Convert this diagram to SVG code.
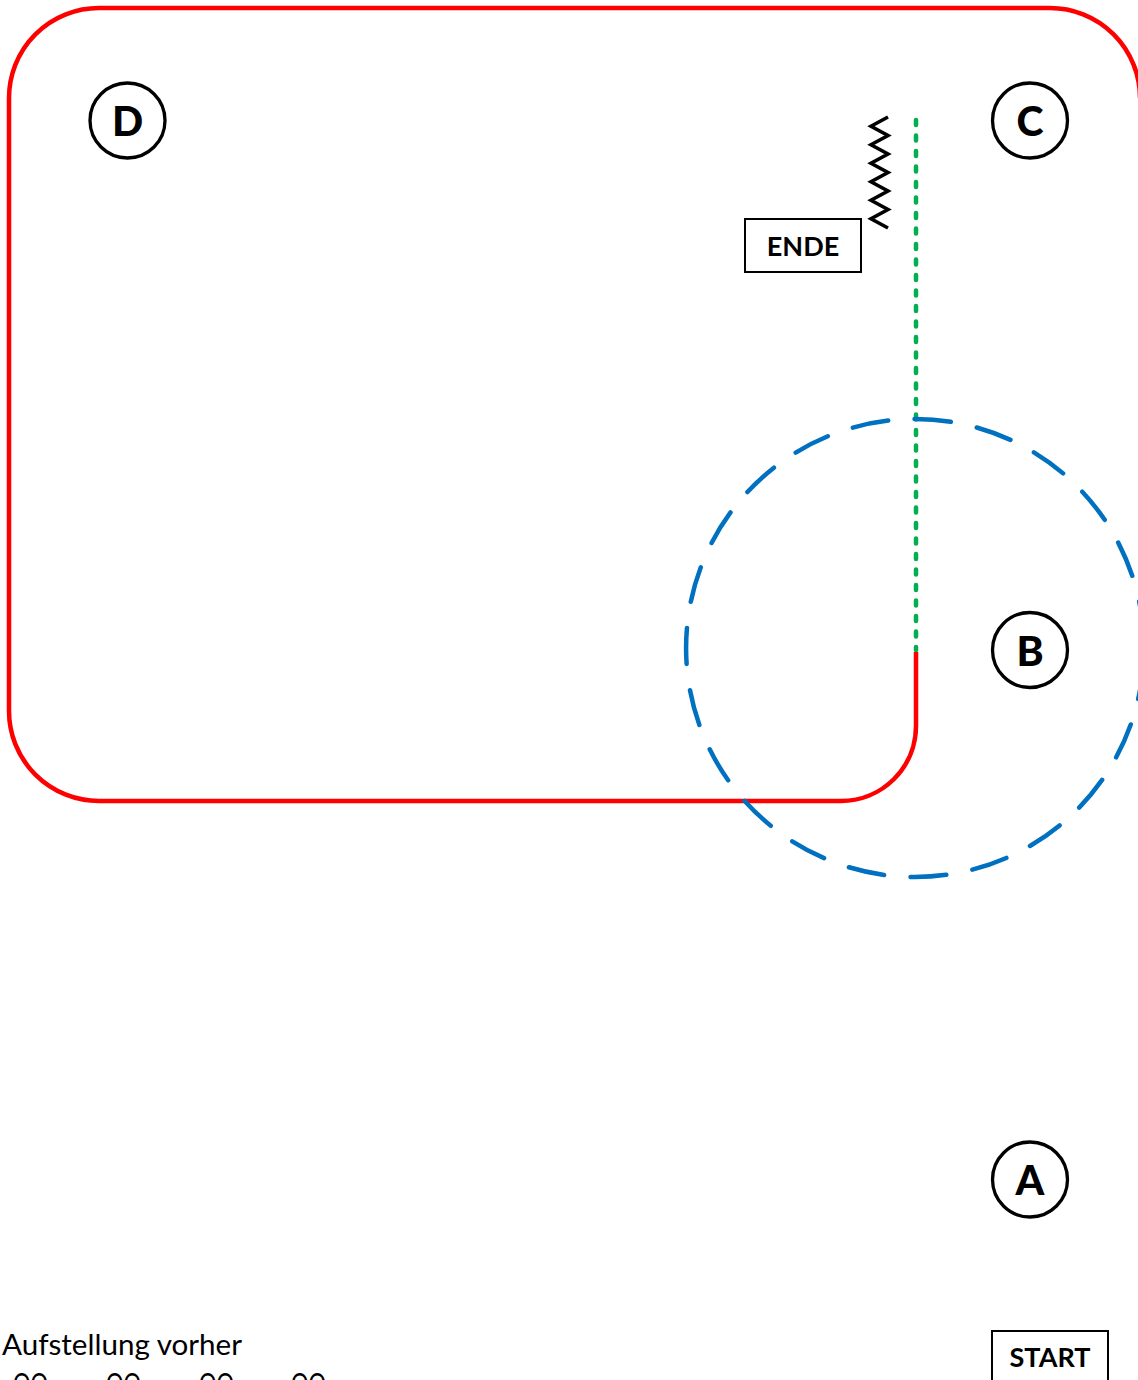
<svg xmlns="http://www.w3.org/2000/svg" width="1138" height="1380" viewBox="0 0 1138 1380">
<style>
.mark{fill:#fff;stroke:#000;stroke-width:3.3}
.ltr{font-family:Lato,"Open Sans","Liberation Sans",sans-serif;font-weight:900;font-size:41px;fill:#000;text-anchor:middle}
.box{fill:#fff;stroke:#000;stroke-width:2}
.lbl{font-family:Lato,"Open Sans","Liberation Sans",sans-serif;font-weight:bold;font-size:27px;fill:#000;text-anchor:middle}
.txt{font-family:Lato,"Open Sans","Liberation Sans",sans-serif;font-size:28px;fill:#000}
</style>
<rect width="1138" height="1380" fill="#fff"/>
<g id="connectors" fill="none">
  <path id="route-red" d="M916,652 V726 A75,75 0 0 1 841,801 H99 A90,90 0 0 1 9,711 V98 A90,90 0 0 1 99,8 H1050 A90,90 0 0 1 1140,98" stroke="#FF0000" stroke-width="4.5"/>
  <path id="route-green" d="M916,120 V650" stroke="#00B050" stroke-width="4.5" stroke-linecap="round" stroke-dasharray="5 10.5"/>
  <path id="circle-blue" d="M915,419 A229,229 0 0 1 915,877 A229,229 0 0 1 915,419" stroke="#0070C0" stroke-width="4.5" stroke-linecap="round" stroke-dasharray="36 26.5"/>
  <path id="zigzag" d="M888,117 L871,126.25 L888,135.5 L871,144.75 L888,154 L871,163.25 L888,172.5 L871,181.75 L888,191 L871,200.25 L888,209.5 L871,218.75 L888,228" stroke="#000" stroke-width="3.6"/>
</g>
<g id="node-D"><circle class="mark" cx="127.5" cy="120.5" r="37.5"/><text class="ltr" x="127.5" y="136">D</text></g>
<g id="node-C"><circle class="mark" cx="1030" cy="120.5" r="37.5"/><text class="ltr" x="1030" y="136">C</text></g>
<g id="node-B"><circle class="mark" cx="1030" cy="650" r="37.5"/><text class="ltr" x="1030" y="665.5">B</text></g>
<g id="node-A"><circle class="mark" cx="1030" cy="1179.5" r="37.5"/><text class="ltr" x="1030" y="1195">A</text></g>
<g id="node-ENDE"><rect class="box" x="745" y="219" width="116" height="53"/><text class="lbl" x="803" y="256">ENDE</text></g>
<g id="node-START"><rect class="box" x="992" y="1331" width="116" height="60"/><text class="lbl" x="1050" y="1367">START</text></g>
<g id="label">
  <text class="txt" x="2" y="1355" textLength="240" lengthAdjust="spacingAndGlyphs">Aufstellung vorher</text>
  <text class="txt" x="13" y="1394" textLength="35" lengthAdjust="spacingAndGlyphs">OO</text>
  <text class="txt" x="106" y="1394" textLength="35" lengthAdjust="spacingAndGlyphs">OO</text>
  <text class="txt" x="199" y="1394" textLength="35" lengthAdjust="spacingAndGlyphs">OO</text>
  <text class="txt" x="291" y="1394" textLength="35" lengthAdjust="spacingAndGlyphs">OO</text>
</g>
</svg>
